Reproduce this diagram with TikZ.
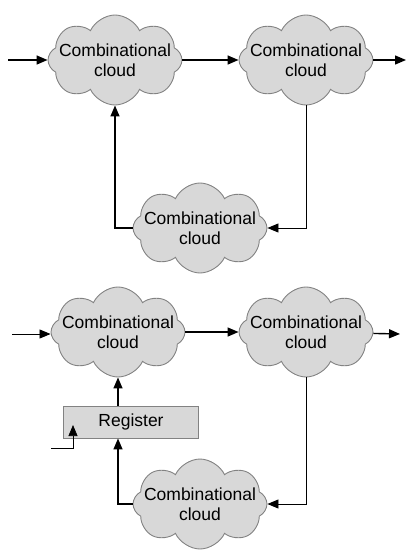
\documentclass[tikz,border=0pt]{standalone}
\usepackage{fontspec}
\setmainfont{Liberation Sans}
\usetikzlibrary{shapes.symbols,arrows.meta}
\definecolor{cloudfill}{RGB}{216,216,216}
\definecolor{cloudline}{RGB}{130,130,130}
\begin{document}
\begin{tikzpicture}[x=1pt,y=-1pt,
  cloudbox/.style={cloud, cloud puffs=8, cloud puff arc=130, cloud ignores aspect,
    shape border rotate=22.5,
    minimum width=134pt, minimum height=90pt, fill=cloudfill, draw=cloudline,
    line width=0.9pt, inner sep=0pt},
  label/.style={align=center, inner sep=0pt, font=\fontsize{17.5}{20}\selectfont},
  regbox/.style={rectangle, minimum width=135pt, minimum height=32pt, fill=cloudfill,
    draw=cloudline, line width=0.9pt, inner sep=0pt, font=\fontsize{17.5}{20}\selectfont},
  arr/.style={line width=1.4pt, -{Triangle[length=11pt,width=9pt]}},
  thinarr/.style={line width=0.9pt, -{Triangle[length=11pt,width=9pt]}}
]
\useasboundingbox (0,0) rectangle (415,555);
% top
\node[cloudbox] (c1) at (115,60) {};
\node[label] (c1t) at (c1.center) {Combinational\\cloud};
\node[cloudbox] (c2) at (306,60) {};
\node[label] (c2t) at (c2.center) {Combinational\\cloud};
\node[cloudbox] (c3) at (200,228) {};
\node[label] (c3t) at (c3.center) {Combinational\\cloud};
\coordinate (in1) at (8,60);
\coordinate (out1) at (406,60);
\draw[arr] (in1) -- (c1);
\draw[arr] (c1) -- (c2);
\draw[arr] (c2) -- (out1);
\draw[thinarr] (c2.south) |- (c3.east);
\draw[arr] (c3.west) -| (c1.south);
% bottom
\node[cloudbox] (d1) at (118,332) {};
\node[label] (d1t) at (d1.center) {Combinational\\cloud};
\node[cloudbox] (d2) at (306,332) {};
\node[label] (d2t) at (d2.center) {Combinational\\cloud};
\node[cloudbox] (d3) at (200,504) {};
\node[label] (d3t) at (d3.center) {Combinational\\cloud};
\node[regbox] (reg) at (131,422) {Register};
\coordinate (in2) at (12,334);
\coordinate (out2) at (400,334);
\coordinate (clk) at (51,448);
\coordinate (clktip) at (73,425);
\draw[thinarr] (in2) -- (in2 -| d1.west);
\draw[arr] (d1) -- (d2);
\draw[arr] (d2) -- (out2);
\draw[thinarr] (d2.south) |- (d3.east);
\draw[arr] (d3.west) -| (reg.south -| d1.south);
\draw[arr] (reg.north -| d1.south) -- (d1.south);
\draw[line width=0.7pt, -{Triangle[length=11pt,width=9pt]}] (clk) -| (clktip);
\end{tikzpicture}
\end{document}
